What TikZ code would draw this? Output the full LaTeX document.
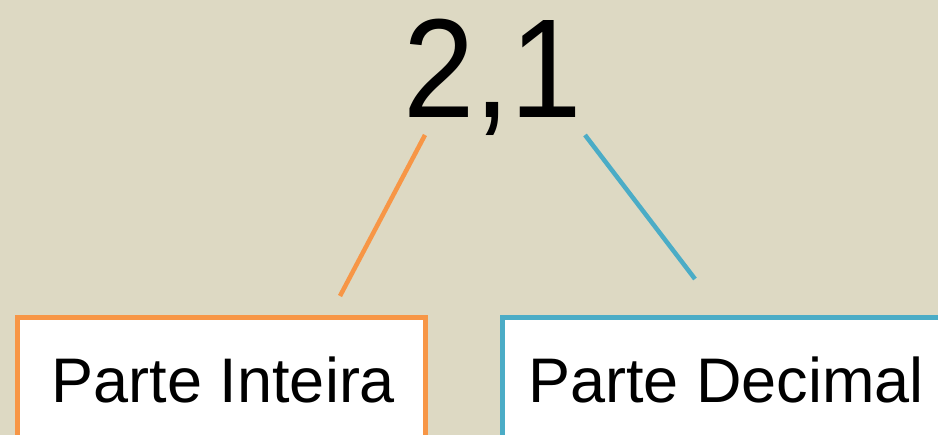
\documentclass[tikz,border=0pt]{standalone}
\usepackage{fontspec}
\setmainfont{Liberation Sans}
\definecolor{bgtan}{HTML}{DDD9C3}
\definecolor{accorange}{HTML}{F79646}
\definecolor{accblue}{HTML}{4BACC6}
\begin{document}
\begin{tikzpicture}[x=1pt,y=-1pt,
  boxstyle/.style={draw=#1,line width=5pt,fill=white,rectangle,inner sep=0pt,outer sep=0pt},
  labelstyle/.style={anchor=base,inner sep=0pt,font=\fontsize{63}{70}\selectfont},
  linkstyle/.style={draw=#1,line width=4.5pt}]
\useasboundingbox (0,0) rectangle (938,435);
\clip (0,0) rectangle (938,435);
\fill[bgtan] (0,0) rectangle (938,435);
\node[anchor=base,inner sep=0pt,xscale=0.91,font=\fontsize{141}{150}\selectfont] (num) at (492.5,118) {2,1};
\node[boxstyle=accorange,minimum width=408pt,minimum height=200pt,anchor=north west] (left) at (17.5,317.5) {};
\node[boxstyle=accblue,minimum width=500pt,minimum height=200pt,anchor=north west] (right) at (502.5,318) {};
\node[labelstyle] (lt) at (223.5,403) {Parte Inteira};
\node[labelstyle] (rt) at (726,403) {Parte Decimal};
\coordinate (la) at (425,135);
\coordinate (lb) at (340,296);
\coordinate (ra) at (585,135);
\coordinate (rb) at (695,279);
\draw[linkstyle=accorange] (la) -- (lb);
\draw[linkstyle=accblue] (ra) -- (rb);
\end{tikzpicture}
\end{document}
